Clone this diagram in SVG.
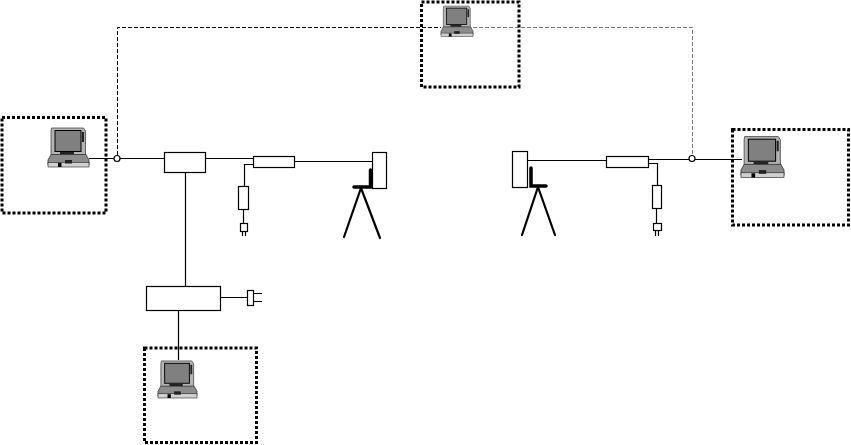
<svg xmlns="http://www.w3.org/2000/svg" width="851" height="445" viewBox="0 0 851 445">
<style>
.zone{fill:none;stroke:#000;stroke-width:3;stroke-dasharray:3 2}
.box{fill:#fff;stroke:#000;stroke-width:1.2}
.ln{fill:none;stroke:#000;stroke-width:1.2}
.dash{fill:none;stroke:#000;stroke-width:1;stroke-dasharray:4 2}
.gdash{fill:none;stroke:#777;stroke-width:1;stroke-dasharray:4 2}
.thick{fill:none;stroke:#000;stroke-width:3.500;stroke-linecap:round}
.leg{fill:none;stroke:#000;stroke-width:2.200;stroke-linecap:round}
</style>
<defs>
<symbol id="laptop" viewBox="0 0 41 40" overflow="visible">
<path d="M3.500 1H35.500L37.500 4V28H3V4Z" fill="#b4b4b4" stroke="#444" stroke-width="0.8"/>
<rect x="7" y="3.500" width="26" height="21" fill="#808080" stroke="#000" stroke-width="1"/>
<rect x="34" y="5" width="2" height="10" fill="#222"/>
<rect x="12" y="25" width="14" height="3" fill="#222"/>
<path d="M3 27.500H38L41 33V38H0V33Z" fill="#8c8c8c" stroke="#333" stroke-width="0.8"/>
<rect x="0" y="35.500" width="41" height="4.500" fill="#d0d0d0" stroke="#222" stroke-width="0.6"/>
<rect x="10" y="36" width="3.500" height="4" fill="#000"/>
<rect x="17" y="33" width="7" height="3.500" fill="#222"/>
</symbol>
</defs>
<g id="connectors">
<path class="dash" d="M117.500 155V27.500H441"/>
<path class="gdash" d="M473 27.500H692.500V155"/>
<path class="ln" d="M89 158.500H114M120 158.500H164M205 158.500H253M294 161.500H372M185.500 172V286M178.500 310V360M220 297.500H247M253 293.500H262M253 301.500H262"/>
<path class="ln" d="M253 164.500H244.500V186M243.500 209V223M242.500 231V236M245.500 231V236"/>
<path class="ln" d="M527 160.500H606M648 159.500H689M695 159.500H742M648 163.500H657.500V185M656.500 208V223M655.500 231V236M658.500 231V236"/>
</g>
<g id="zone-left"><rect class="zone" x="2" y="117.500" width="104" height="95.500"/></g>
<g id="zone-right"><rect class="zone" x="732.500" y="129.500" width="116" height="95.500"/></g>
<g id="zone-top"><rect class="zone" x="421.500" y="2" width="97.500" height="85"/></g>
<g id="zone-bottom"><rect class="zone" x="144.500" y="348" width="112" height="94.500"/></g>
<g id="laptop-left"><use href="#laptop" x="48" y="127" width="41" height="40"/></g>
<g id="laptop-top"><use href="#laptop" x="441" y="5" width="32" height="32"/></g>
<g id="laptop-right"><use href="#laptop" x="741" y="135" width="43" height="43"/></g>
<g id="laptop-bottom"><use href="#laptop" x="157" y="360" width="41" height="38"/></g>
<g id="junction-left"><circle class="box" cx="117" cy="158.500" r="3"/></g>
<g id="junction-right"><circle class="box" cx="692" cy="158.500" r="3"/></g>
<g id="switch"><rect class="box" x="164.500" y="152.500" width="41" height="20"/></g>
<g id="hub"><rect class="box" x="146.500" y="286.500" width="74" height="24"/></g>
<g id="hub-plug"><rect class="box" x="247.500" y="290.500" width="6" height="15"/></g>
<g id="injector-left"><rect class="box" x="253.500" y="156.500" width="41" height="11"/></g>
<g id="psu-left"><rect class="box" x="238.500" y="186.500" width="10" height="23"/></g>
<g id="plug-left"><rect class="box" x="240.500" y="223.500" width="7" height="8"/></g>
<g id="antenna-left">
<rect class="box" x="372.500" y="152.500" width="14" height="36"/>
<path class="thick" d="M370.500 170V187M354 187H371"/>
<path class="leg" d="M361 188L344 237M361 188L380 238"/>
</g>
<g id="antenna-right">
<rect class="box" x="512.500" y="151.500" width="15" height="36"/>
<path class="thick" d="M531 168V186H546"/>
<path class="leg" d="M538 187L522 235M538 187L555 235"/>
</g>
<g id="injector-right"><rect class="box" x="606.500" y="156.500" width="42" height="11"/></g>
<g id="psu-right"><rect class="box" x="652.500" y="185.500" width="9" height="23"/></g>
<g id="plug-right"><rect class="box" x="653.500" y="223.500" width="8" height="7"/></g>
</svg>
